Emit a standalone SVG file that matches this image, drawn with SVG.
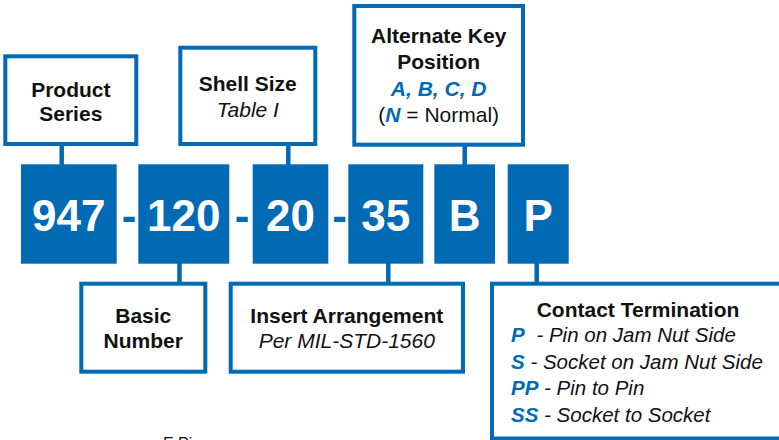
<svg xmlns="http://www.w3.org/2000/svg" width="779" height="440" viewBox="0 0 779 440">
<style>
.box{fill:#fff;stroke:#006AB5;stroke-width:4}
.code{fill:#006AB5}
.ln{stroke:#006AB5;stroke-width:4.5;fill:none}
text{font-family:"Liberation Sans",Arial,sans-serif}
.big{font-size:44px;font-weight:bold;fill:#fff;text-anchor:middle}
.dash{font-size:44px;font-weight:bold;fill:#006AB5;text-anchor:middle}
.lbl{font-size:21px;fill:#111;text-anchor:middle}
.b{font-weight:bold}
.i{font-style:italic}
.blue{fill:#006AB5;font-weight:bold;font-style:italic}
.item{font-size:20.5px;fill:#111;font-style:italic}
</style>
<rect width="779" height="440" fill="#fff"/>
<g id="connectors">
<line class="ln" x1="61.7" y1="146" x2="61.7" y2="165"/>
<line class="ln" x1="288.3" y1="146" x2="288.3" y2="165"/>
<line class="ln" x1="464.7" y1="146" x2="464.7" y2="165"/>
<line class="ln" x1="179.5" y1="263" x2="179.5" y2="282"/>
<line class="ln" x1="388.3" y1="263" x2="388.3" y2="282"/>
<line class="ln" x1="536.7" y1="263" x2="536.7" y2="282"/>
</g>
<g id="code">
<g id="c947"><rect class="code" x="21" y="164.3" width="95.7" height="99.4"/><text class="big" x="68.8" y="231">947</text></g>
<text class="dash" x="129" y="231">-</text>
<g id="c120"><rect class="code" x="138.3" y="164.3" width="91" height="99.4"/><text class="big" x="183.8" y="231">120</text></g>
<text class="dash" x="242" y="231">-</text>
<g id="c20"><rect class="code" x="252.7" y="164.3" width="75.6" height="99.4"/><text class="big" x="290.5" y="231">20</text></g>
<text class="dash" x="339.5" y="231">-</text>
<g id="c35"><rect class="code" x="348.3" y="164.3" width="75" height="99.4"/><text class="big" x="385.8" y="231">35</text></g>
<g id="cB"><rect class="code" x="434.3" y="164.3" width="60.7" height="99.4"/><text class="big" x="464.7" y="231">B</text></g>
<g id="cP"><rect class="code" x="507.7" y="164.3" width="61" height="99.4"/><text class="big" x="538.2" y="231">P</text></g>
</g>
<g id="product-series">
<rect class="box" x="5.3" y="56.3" width="131" height="87.7"/>
<text class="lbl b" x="70.8" y="97">Product</text>
<text class="lbl b" x="70.8" y="121">Series</text>
</g>
<g id="shell-size">
<rect class="box" x="180.3" y="47.7" width="135" height="96.3"/>
<text class="lbl b" x="247.8" y="91">Shell Size</text>
<text class="lbl i" x="247.8" y="117">Table I</text>
</g>
<g id="alternate-key">
<rect class="box" x="354.3" y="6" width="168.7" height="138.7"/>
<text class="lbl b" x="438.7" y="43">Alternate Key</text>
<text class="lbl b" x="438.7" y="69">Position</text>
<text class="lbl blue" x="438.7" y="96">A, B, C, D</text>
<text class="lbl" x="438.7" y="122">(<tspan class="blue">N</tspan> = Normal)</text>
</g>
<g id="basic-number">
<rect class="box" x="81.3" y="283.7" width="124" height="88"/>
<text class="lbl b" x="143.3" y="323">Basic</text>
<text class="lbl b" x="143.3" y="348">Number</text>
</g>
<g id="insert-arrangement">
<rect class="box" x="230.7" y="283.7" width="232.3" height="88"/>
<text class="lbl b" x="346.8" y="323">Insert Arrangement</text>
<text class="lbl i" x="346.8" y="348">Per MIL-STD-1560</text>
</g>
<g id="contact-termination">
<rect class="box" x="492" y="283.7" width="300" height="154.8" stroke-width="3.5"/>
<text class="lbl b" x="638" y="317">Contact Termination</text>
<text class="item" x="511" y="342"><tspan class="blue">P</tspan><tspan dx="6"> - Pin on Jam Nut Side</tspan></text>
<text class="item" x="511" y="369"><tspan class="blue">S</tspan> - Socket on Jam Nut Side</text>
<text class="item" x="511" y="395"><tspan class="blue">PP</tspan> - Pin to Pin</text>
<text class="item" x="511" y="422"><tspan class="blue">SS</tspan> - Socket to Socket</text>
</g>
<text x="163" y="448.5" font-size="16" fill="#111">E Pi</text>
</svg>
